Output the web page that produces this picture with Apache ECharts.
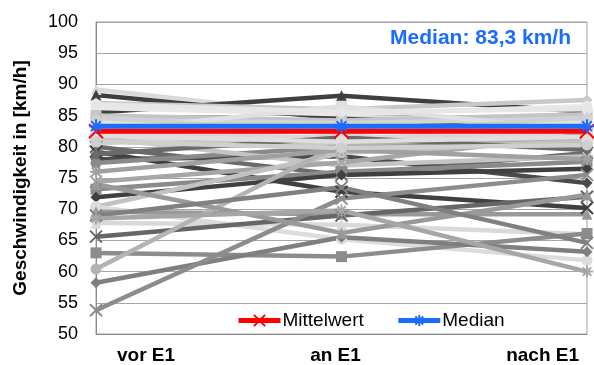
<!DOCTYPE html>
<html>
<head>
<meta charset="utf-8">
<script src="https://cdn.jsdelivr.net/npm/echarts@6/dist/echarts.min.js"></script>
<style>html,body{margin:0;padding:0;background:#fff}#c{width:594px;height:365px}</style>
</head>
<body>
<div id="c"></div>
<script>
// Categories
var categories = ['vor E1', 'an E1', 'nach E1'];
// Y tick labels
var yTicks = [50, 55, 60, 65, 70, 75, 80, 85, 90, 95, 100];
// Individual measurement lines: value of each line at each category
var vorE1  = [89.2, 88.3, 85.5, 87.0, 86.2, 85.0, 84.3, 83.8, 82.0, 81.0, 80.5, 80.0, 79.2, 78.0, 77.4, 81.5, 74.4, 73.2, 71.9, 70.4, 70.4, 69.6, 67.8, 65.6, 63.0, 60.4, 58.2, 53.8, 74.0, 69.0, 68.5, 76.0, 82.5, 78.8, 86.8, 84.8, 81.8, 80.8];
var anE1   = [84.8, 84.5, 88.2, 86.0, 85.2, 84.2, 83.8, 82.3, 81.5, 80.5, 83.0, 75.5, 72.8, 78.5, 80.0, 77.0, 77.5, 76.0, 75.5, 79.0, 65.2, 69.2, 67.5, 69.0, 62.4, 80.5, 65.5, 71.7, 66.2, 73.5, 69.8, 79.5, 86.5, 81.5, 85.6, 82.0, 80.8, 79.8];
var nachE1 = [84.0, 83.0, 85.6, 87.5, 86.5, 85.2, 84.5, 83.8, 82.0, 81.2, 80.0, 79.0, 70.2, 74.2, 80.5, 78.5, 82.0, 77.6, 76.5, 81.0, 61.8, 69.2, 66.0, 72.0, 66.1, 81.5, 63.2, 75.5, 72.3, 64.6, 60.0, 78.0, 82.5, 79.5, 86.0, 84.8, 81.6, 80.3];
// Summary lines
var mittelwert = [82.5, 82.5, 82.5];
var median = [83.3, 83.3, 83.3];
var medianText = 'Median: 83,3 km/h';

// Styles (kept separate from data)
var lineColors = ['#dadada','#3f3f3f','#3f3f3f','#c8c8c8','#e8e8e8','#c4c4c4','#d4d4d4','#e3e3e3','#d9d9d9','#c6c6c6','#d6d6d6','#6a6a6a','#404040','#4a4a4a','#8a8a8a','#c4c4c4','#a6a6a6','#8a8a8a','#404040','#c2c2c2','#dcdcdc','#999999','#d9d9d9','#666666','#8c8c8c','#b3b3b3','#7f7f7f','#8c8c8c','#999999','#808080','#a6a6a6','#a0a0a0','#e0e0e0','#6a6a6a','#e6e6e6','#d0d0d0','#dedede','#cfcfcf'];
var X_PATH = 'path://M0,0L10,10M10,0L0,10';
var AST_PATH = 'path://M5,0L5,10M0,5L10,5M1.5,1.5L8.5,8.5M8.5,1.5L1.5,8.5';
var lineSymbols = ['triangle','triangle','triangle','diamond','circle','rect','circle','triangle','rect','diamond','circle','x','x','diamond','circle','ast','x','rect','diamond','circle','circle','triangle','triangle','x','rect','circle','diamond','x','triangle','x','ast','ast','rect','diamond','circle','triangle','rect','circle'];

function sym(s){ return s === 'x' ? X_PATH : (s === 'ast' ? AST_PATH : s); }

var series = [];
for (var i = 0; i < vorE1.length; i++) {
  var c = lineColors[i], s = lineSymbols[i];
  var stroke = (s === 'x' || s === 'ast');
  series.push({
    type: 'line',
    name: 'L' + (i + 1),
    data: [vorE1[i], anE1[i], nachE1[i]],
    symbol: sym(s),
    symbolSize: stroke ? 12 : 11,
    showSymbol: true,
    lineStyle: { color: c, width: 4.5 },
    itemStyle: { color: c, borderColor: c, borderWidth: stroke ? 2 : 0 },
    emphasis: { disabled: true },
    animation: false,
    z: 2
  });
}
series.push({
  type: 'line', name: 'Mittelwert', data: mittelwert,
  symbol: X_PATH, symbolSize: 14,
  lineStyle: { color: '#ff0000', width: 5 },
  itemStyle: { color: '#ff0000', borderColor: '#ff0000', borderWidth: 2 },
  animation: false, z: 3
});
series.push({
  type: 'line', name: 'Median', data: median,
  symbol: AST_PATH, symbolSize: 14,
  lineStyle: { color: '#1a6cff', width: 5 },
  itemStyle: { color: '#1a6cff', borderColor: '#1a6cff', borderWidth: 2 },
  animation: false, z: 4
});

var chart = echarts.init(document.getElementById('c'), null, { renderer: 'canvas' });
chart.setOption({
  backgroundColor: '#ffffff',
  animation: false,
  textStyle: { fontFamily: 'Liberation Sans, Arial, sans-serif' },
  title: {
    text: medianText, right: 18, top: 23,
    textStyle: { color: '#1a6cff', fontSize: 21, fontWeight: 'bold', fontFamily: 'Liberation Sans, Arial, sans-serif' }
  },
  grid: { left: 96, right: 7, top: 22, bottom: 31, show: true, borderColor: '#a0a0a0', borderWidth: 1 },
  legend: {
    data: ['Mittelwert', 'Median'],
    left: 231, top: 306, itemWidth: 42, itemHeight: 14, itemGap: 32,
    lineStyle: { width: 5 },
    textStyle: { fontSize: 19, color: '#000', fontFamily: 'Liberation Sans, Arial, sans-serif', padding: [0,0,0,-3] },
    selectedMode: false
  },
  xAxis: {
    type: 'category', boundaryGap: false,
    data: [
      { value: categories[0], textStyle: { align: 'left', padding: [0, 0, 0, 21] } },
      { value: categories[1], textStyle: { align: 'center', padding: [0, 12, 0, 0] } },
      { value: categories[2], textStyle: { align: 'right', padding: [0, 8, 0, 0] } }
    ],
    axisLine: { lineStyle: { color: '#8c8c8c', width: 1 } },
    axisTick: { show: false },
    axisLabel: { fontSize: 19, fontWeight: 'bold', color: '#000', margin: 12, fontFamily: 'Liberation Sans, Arial, sans-serif' },
    splitLine: { show: false }
  },
  yAxis: {
    type: 'value', min: yTicks[0], max: yTicks[yTicks.length - 1], interval: 5,
    name: 'Geschwindigkeit in [km/h]', nameLocation: 'middle', nameGap: 66,
    nameTextStyle: { fontSize: 19, fontWeight: 'bold', color: '#000', fontFamily: 'Liberation Sans, Arial, sans-serif' },
    axisLine: { show: true, lineStyle: { color: '#8c8c8c', width: 1 } },
    axisTick: { show: false },
    axisLabel: { fontSize: 18, color: '#000', margin: 18, fontFamily: 'Liberation Sans, Arial, sans-serif' },
    splitLine: { show: true, lineStyle: { color: '#a6a6a6', width: 1 } }
  },
  series: series
});
</script>
</body>
</html>
